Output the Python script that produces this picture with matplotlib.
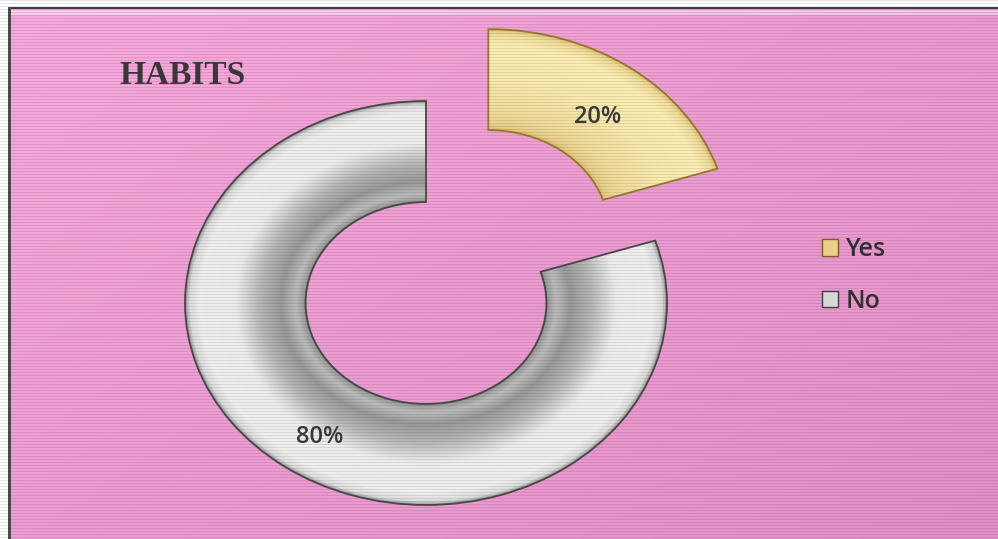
import matplotlib.pyplot as plt
import matplotlib.patches as mpatches
import numpy as np

# data
labels = ['Yes', 'No']
shares = [20, 80]
explode = [0.44, 0]
title = 'HABITS'

W, H = 998, 539
fig = plt.figure(figsize=(W / 100, H / 100), dpi=100)

# pink background with a soft diagonal gradient and scan lines
yy, xx = np.mgrid[0:H, 0:W]
t = np.clip(xx / W * 0.55 + yy / H * 0.45, 0, 1)
c0 = np.array([248, 170, 222]) / 255
c1 = np.array([228, 144, 200]) / 255
bg = c0 + (c1 - c0) * t[..., None]
bg[10:15, 10:] = bg[10:15, 10:] * 0.6 + 0.4  # top highlight
bg[:7, :] = 1.0
bg[:, :8] = 1.0
bg[7:9, 8:] = 0.25
bg[7:, 8:11] = 0.3
fig.figimage(bg, 0, 0, zorder=-5)

# scan-line overlay over everything
over = np.zeros((H, W, 4))
over[::3, :, 3] = 0.1
fig.figimage(over, 0, 0, zorder=5)

ax = fig.add_axes([0, 0, 1, 1])
ax.set_axis_off()
ax.patch.set_visible(False)


def grey_tone(s):
    # s: 0 at outer edge, 1 at inner edge
    pts = [0.0, 0.04, 0.12, 0.42, 0.62, 0.80, 0.92, 1.0]
    val = [0.58, 0.86, 0.94, 0.93, 0.72, 0.60, 0.74, 0.58]
    v = np.interp(s, pts, val)
    return (v, v, v)


def gold_tone(s):
    pts = [0.0, 0.05, 0.15, 0.5, 0.85, 0.95, 1.0]
    k = [0.45, 0.8, 1.0, 0.95, 0.78, 0.65, 0.45]
    f = np.interp(s, pts, k)
    light = np.array([252, 238, 180]) / 255
    dark = np.array([196, 152, 60]) / 255
    return tuple(dark + (light - dark) * f)


n = 60
r_in = 0.5
for i in range(n):
    s = (i + 0.5) / n
    r = 1 - i * (1 - r_in) / n
    ax.pie(shares, explode=explode, startangle=90, counterclock=False,
           radius=r, colors=[gold_tone(s), grey_tone(s)],
           wedgeprops=dict(width=(1 - r_in) / n * 1.6, edgecolor='none', linewidth=0))

wedges, texts, autotexts = ax.pie(
    shares, explode=explode, startangle=90, counterclock=False,
    radius=1, autopct='%1.0f%%', pctdistance=0.76,
    wedgeprops=dict(width=1 - r_in, facecolor='none', linewidth=1.3),
    textprops=dict(fontsize=17, color='#3a3a3a', family='Open Sans', weight='semibold'))
wedges[0].set_edgecolor('#9a7a30')
wedges[1].set_edgecolor('#4a4a4a')
# labels sit a little lower in the original
for tx in autotexts:
    px, py = tx.get_position()
    tx.set_position((px + 0.005, py - 0.05))

# stretch to match the wide ellipse of the reference
ax.set_aspect('auto')
ax.set_xlim(-426 / 241, (W - 426) / 241)
ax.set_ylim(-236 / 202, (H - 236) / 202)

fig.text(119 / W, 1 - 76 / H, title, family='Liberation Serif', weight='bold',
         fontsize=24, color='#3a3a3a', va='center', ha='left')

handles = [mpatches.Rectangle((0, 0), 1, 1, facecolor='#ecd088', edgecolor='#7a6020', lw=1),
           mpatches.Rectangle((0, 0), 1, 1, facecolor='#d8d8d8', edgecolor='#404040', lw=1)]
fig.legend(handles, labels, loc='upper left', bbox_to_anchor=(799 / W, 1 - 215 / H),
           frameon=False, handlelength=0.65, handleheight=0.65, handletextpad=0.3,
           labelspacing=1.05, prop=dict(family='Open Sans', size=18, weight='semibold'),
           labelcolor='#303030')

fig.savefig('out.png', dpi=100)
